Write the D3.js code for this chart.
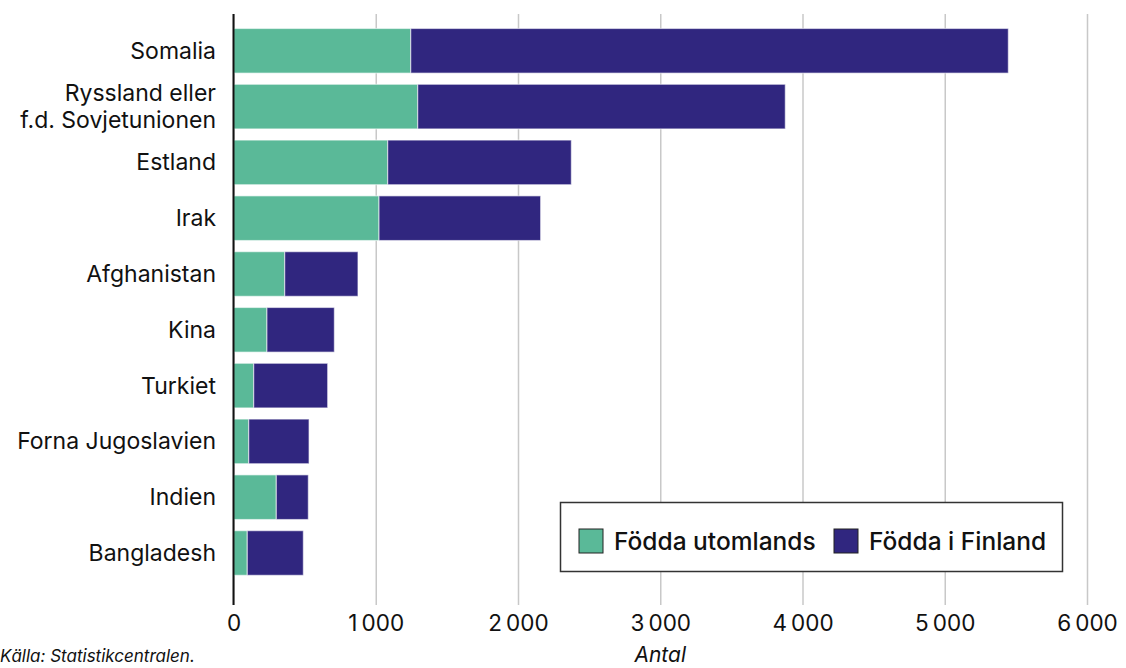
<!DOCTYPE html>
<html>
<head>
<meta charset="utf-8">
<script src="https://cdn.jsdelivr.net/npm/d3@7"></script>
<style>
  html, body { margin: 0; padding: 0; background: #fff; }
  svg { display: block; font-family: Inter, Roboto, "Noto Sans", sans-serif; }
</style>
</head>
<body>
<svg id="chart" width="1126" height="668"></svg>
<script>
const categories = ["Somalia", "Ryssland eller\nf.d. Sovjetunionen", "Estland", "Irak", "Afghanistan", "Kina", "Turkiet", "Forna Jugoslavien", "Indien", "Bangladesh"];
const bornAbroad  = [1246, 1295, 1084, 1023, 360, 235, 142, 107, 301, 97];
const bornFinland = [4201, 2584, 1291, 1136, 515, 474, 520, 424, 225, 394];
const seriesNames = ["Födda utomlands", "Födda i Finland"];
const seriesColors = ["#5ab998", "#30267f"];
const xTicks = [0, 1000, 2000, 3000, 4000, 5000, 6000];
const xTitle = "Antal";
const sourceText = "Källa: Statistikcentralen.";

const svg = d3.select("#chart");
const x = d3.scaleLinear().domain([0, 6000]).range([233.5, 1087]);
const y = d3.scaleBand().domain(categories).range([22.9, 580.9]).paddingInner(0.2).paddingOuter(0.1);

const locale = d3.formatLocale({ decimal: ",", thousands: "\u2009", grouping: [3], currency: ["", ""] });
const fmt = locale.format(",d");

// grid + x axis
const xAxis = d3.axisBottom(x).tickValues(xTicks).tickFormat(fmt).tickSize(605 - 14).tickPadding(10);
const gx = svg.append("g").attr("transform", "translate(0,14)").call(xAxis);
gx.select(".domain").remove();
gx.selectAll(".tick line").attr("stroke", "#c8c8c8").attr("stroke-width", 1.5);
gx.selectAll(".tick text").attr("font-size", 22.5).attr("fill", "#111").attr("font-family", "Inter, Roboto, sans-serif");

// stacked data
const rows = categories.map((c, i) => ({ cat: c, a: bornAbroad[i], f: bornFinland[i] }));
const stack = d3.stack().keys(["a", "f"])(rows);

svg.append("g").selectAll("g").data(stack).join("g")
  .attr("fill", (d, i) => seriesColors[i])
  .selectAll("rect").data(d => d).join("rect")
  .attr("x", d => x(d[0]))
  .attr("y", d => y(d.data.cat))
  .attr("width", d => x(d[1]) - x(d[0]))
  .attr("height", y.bandwidth())
  .attr("stroke", "rgba(255,255,255,0.55)")
  .attr("stroke-width", 1.2);

// y axis line
svg.append("line").attr("x1", x(0)).attr("x2", x(0)).attr("y1", 14).attr("y2", 605)
  .attr("stroke", "#111").attr("stroke-width", 2);

// category labels
const lab = svg.append("g").selectAll("text").data(categories).join("text")
  .attr("text-anchor", "end")
  .attr("font-size", 23)
  .attr("fill", "#111");
lab.each(function (c) {
  const lines = c.split("\n");
  const cy = y(c) + y.bandwidth() / 2;
  const lh = 27;
  const t = d3.select(this);
  lines.forEach((ln, k) => {
    t.append("tspan").attr("x", 216)
      .attr("y", cy + (k - (lines.length - 1) / 2) * lh)
      .attr("dy", "0.35em")
      .text(ln);
  });
});

// x title
svg.append("text").attr("x", (x(0) + x(6000)) / 2).attr("y", 662)
  .attr("text-anchor", "middle").attr("font-size", 21).attr("font-style", "italic")
  .attr("fill", "#111").text(xTitle);

// source
svg.append("text").attr("x", 0).attr("y", 662)
  .attr("font-size", 17).attr("font-style", "italic").attr("fill", "#111").text(sourceText);

// legend
const lg = svg.append("g");
lg.append("rect").attr("x", 560.5).attr("y", 502.5).attr("width", 502).attr("height", 69)
  .attr("fill", "#fff").attr("stroke", "#333").attr("stroke-width", 1.5);
const legendX = [579, 834];
seriesNames.forEach((n, i) => {
  lg.append("rect").attr("x", legendX[i]).attr("y", 529).attr("width", 24).attr("height", 24)
    .attr("fill", seriesColors[i]).attr("stroke", "#222").attr("stroke-width", 1);
  lg.append("text").attr("x", legendX[i] + 35).attr("y", 541).attr("dy", "0.35em")
    .attr("font-size", 24.5).attr("font-weight", 500).attr("fill", "#111").text(n);
});
</script>
</body>
</html>
